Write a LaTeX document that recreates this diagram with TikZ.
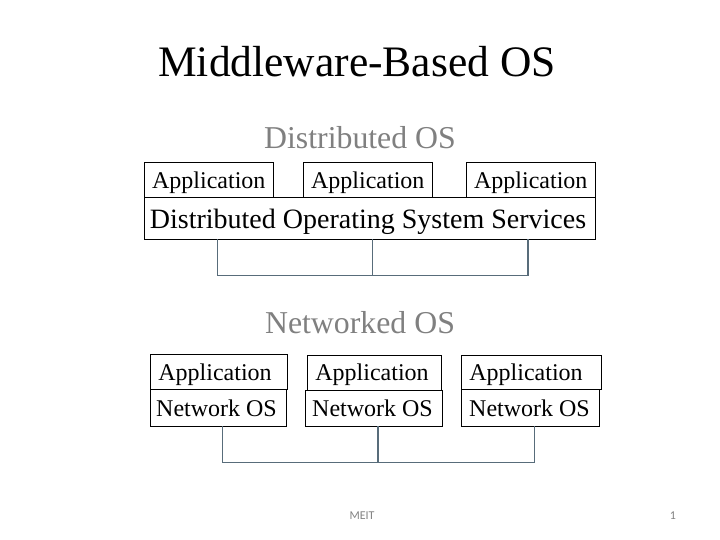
\documentclass[tikz,border=0pt]{standalone}
\usepackage{fontspec}
\setmainfont{Liberation Serif}
\newfontfamily\footfont{Carlito}
\definecolor{wire}{RGB}{88,108,122}
\definecolor{subgray}{RGB}{128,128,128}
\definecolor{footgray}{RGB}{130,130,130}
\begin{document}
\begin{tikzpicture}[x=1pt,y=-1pt,
  lbl/.style={font=\fontsize{24}{24}\selectfont,inner sep=0pt,anchor=base},
  wireline/.style={draw=wire,line width=1.2pt}]
\useasboundingbox (0,0) rectangle (720,540);
% titles
\node[font=\fontsize{43.5}{44}\selectfont,anchor=base] (title) at (357,77) {Middleware-Based OS};
\node[font=\fontsize{31.8}{32}\selectfont,text=subgray,anchor=base] (dtitle) at (360,149) {Distributed OS};
\node[font=\fontsize{31.8}{32}\selectfont,text=subgray,anchor=base] (ntitle) at (360,333) {Networked OS};
% distributed boxes
\draw[line width=0.9pt] (144.3,162.3) rectangle (273.3,197.7);
\draw[line width=0.9pt] (303.3,162.3) rectangle (432.3,197.7);
\draw[line width=0.9pt] (466,162.3) rectangle (595.7,197.7);
\draw[line width=0.9pt] (144.3,197.7) rectangle (595.7,239);
\node[lbl] (a1) at (208.8,188.5) {Application};
\node[lbl] (a2) at (367.8,188.5) {Application};
\node[lbl] (a3) at (530.8,188.5) {Application};
\node[font=\fontsize{28}{28}\selectfont,inner sep=0pt,anchor=base] (dos) at (368,228.5) {Distributed Operating System Services};
\coordinate (d1) at (217.3,239);
\coordinate (d2) at (372.3,239);
\coordinate (d3) at (528,239);
\draw[wireline] (d1) -- (217.3,275.5) -- (528,275.5) -- (d3);
\draw[wireline] (d2) -- (372.3,275.5);
% networked boxes
\draw[line width=0.9pt] (150.7,354) rectangle (287.3,389.3);
\draw[line width=0.9pt] (150.7,389.3) rectangle (286.7,426);
\draw[line width=0.9pt] (307.3,355) rectangle (441.7,390);
\draw[line width=0.9pt] (305.7,390) rectangle (442.3,426.3);
\draw[line width=0.9pt] (461.7,355) rectangle (601.7,389);
\draw[line width=0.9pt] (461.7,389) rectangle (599.3,426);
\node[lbl] (b1) at (215,380.5) {Application};
\node[lbl] (b2) at (372,380.5) {Application};
\node[lbl] (b3) at (526,380.5) {Application};
\node[lbl] (n1) at (216.5,416.5) {Network OS};
\node[lbl] (n2) at (372.5,416.5) {Network OS};
\node[lbl] (n3) at (529.5,416.5) {Network OS};
\coordinate (e1) at (222.7,426);
\coordinate (e2) at (378,426.3);
\coordinate (e3) at (534.3,426);
\draw[wireline] (e1) -- (222.7,462.3) -- (534.3,462.3) -- (e3);
\draw[wireline] (e2) -- (378,462.3);
% footer
\node[font=\footfont\fontsize{12}{12}\selectfont,text=footgray] (meit) at (362,516) {MEIT};
\node[font=\footfont\fontsize{12}{12}\selectfont,text=footgray] (pg) at (673,516) {1};
\end{tikzpicture}
\end{document}
